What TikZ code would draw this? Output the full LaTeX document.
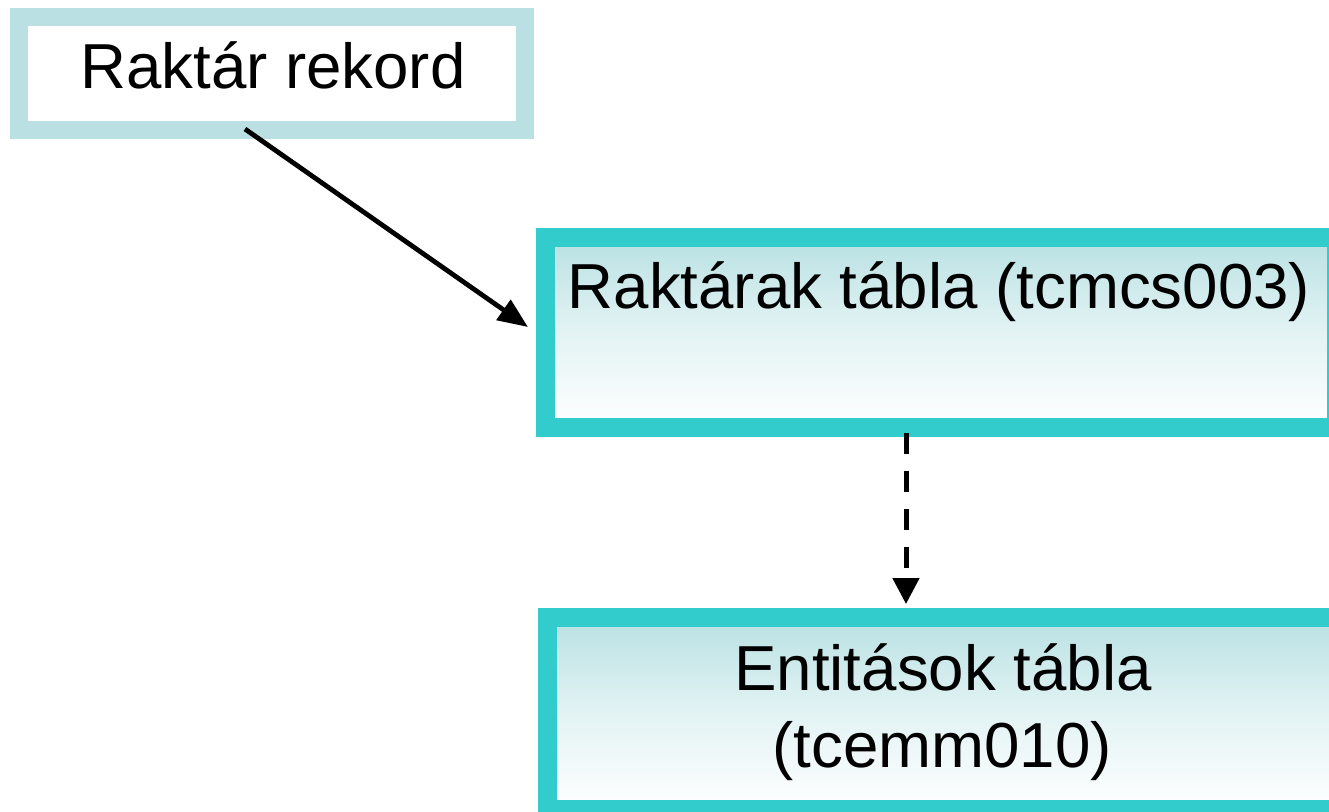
\documentclass[tikz,border=0pt]{standalone}
\usepackage{fontspec}
\setmainfont{Liberation Sans}
\usetikzlibrary{arrows.meta}
\definecolor{lightborder}{HTML}{BAE0E3}
\definecolor{tealborder}{HTML}{33CCCC}
\definecolor{gradtop}{HTML}{B9E1E3}
\tikzset{
  boxlight/.style={draw=lightborder, line width=9pt, fill=white, inner sep=0pt, outer sep=0pt},
  boxteal/.style={draw=tealborder, line width=9.5pt, top color=gradtop, bottom color=white, middle color=gradtop!40!white, inner sep=0pt, outer sep=0pt},
  txt/.style={font=\fontsize{31.8pt}{38.5pt}\selectfont, inner sep=0pt, anchor=base},
  solidarrow/.style={line width=2.4pt, -{Triangle[length=15pt,width=12pt]}},
  dasharrow/.style={line width=2.5pt, dash pattern=on 10.5pt off 8.5pt, -{Triangle[length=13pt,width=13pt]}}
}
\begin{document}
\begin{tikzpicture}[x=0.5pt,y=-0.5pt]
\useasboundingbox (0,0) rectangle (1329,811);
\begin{scope}
\clip (0,0) rectangle (1329,811);
\node[boxlight, minimum width=253pt, minimum height=56.5pt] (b1) at (272,73.5) {};
\node[boxteal, minimum width=395.5pt, minimum height=95pt] (b2) at (941,332.5) {};
\node[boxteal, minimum width=395.5pt, minimum height=96pt] (b3) at (943,713.5) {};
\end{scope}
\node[txt] (t1) at (273,88) {Raktár rekord};
\node[txt] (t2) at (939,308) {Raktárak tábla (tcmcs003)};
\node[txt] (t3a) at (943,690) {Entitások tábla};
\node[txt] (t3b) at (942,767) {(tcemm010)};
\coordinate (a1s) at (245,129);
\coordinate (a1e) at (528,327);
\coordinate (a2s) at (906,433);
\coordinate (a2e) at (906,604);
\draw[solidarrow] (a1s) -- (a1e);
\draw[dasharrow] (a2s) -- (a2e);
\end{tikzpicture}
\end{document}
